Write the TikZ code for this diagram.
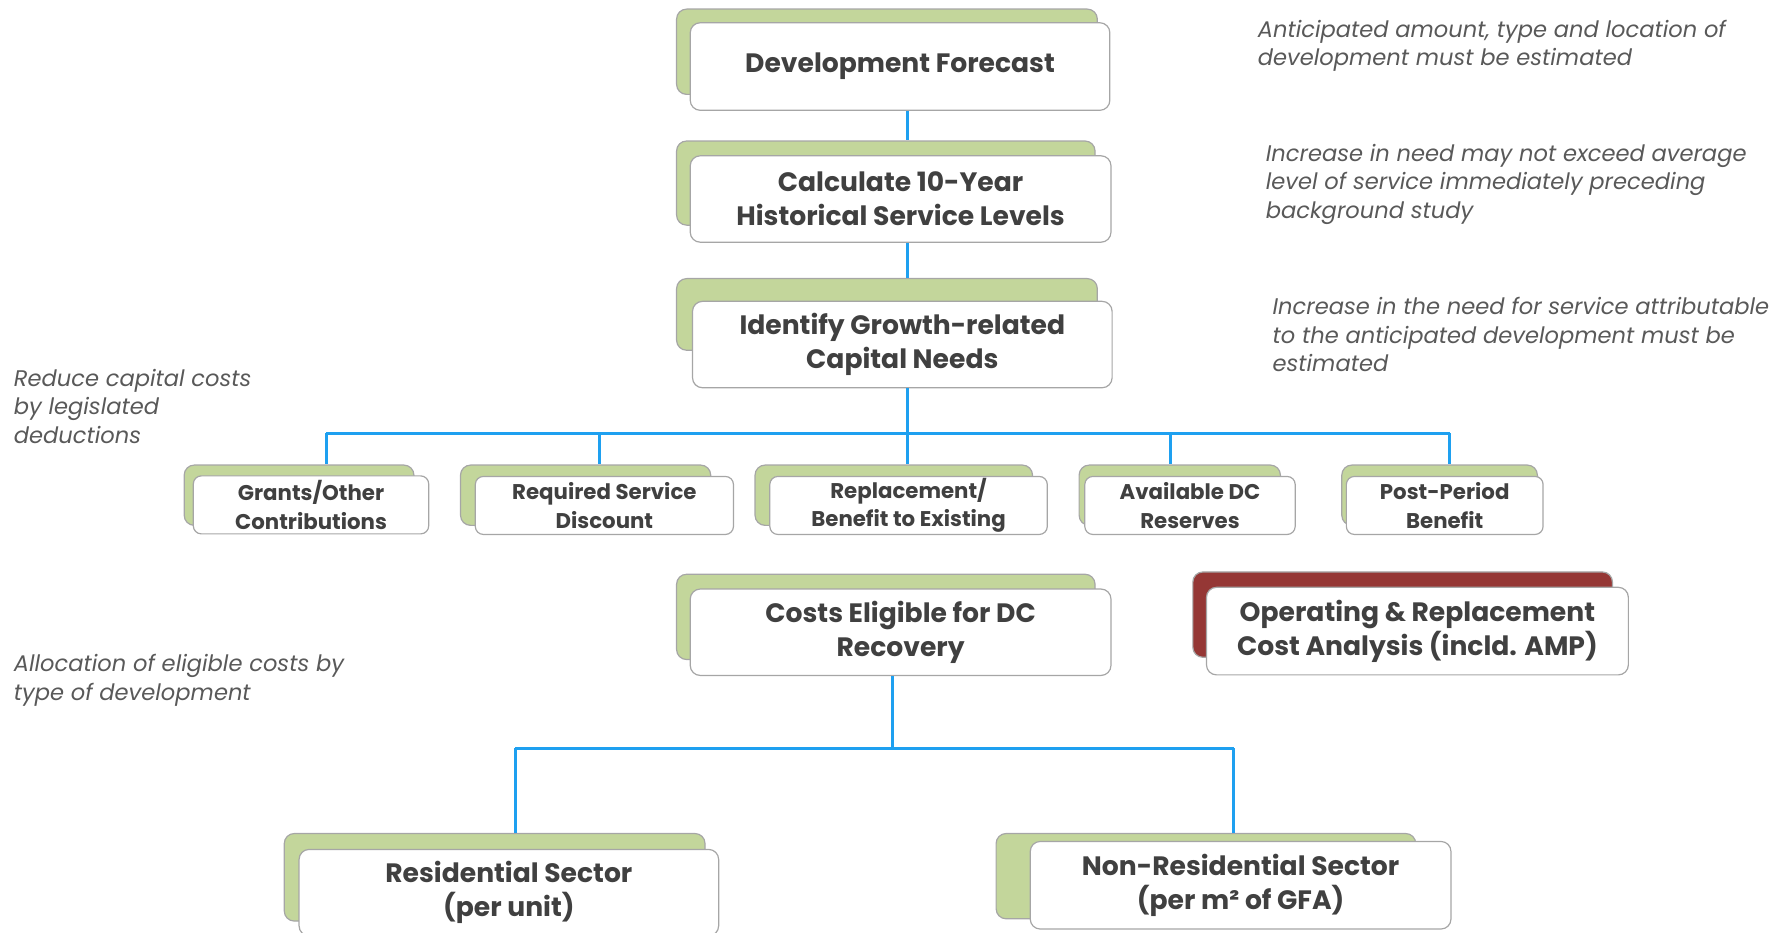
\documentclass[tikz,border=0pt]{standalone}
\usepackage{fontspec}
\setmainfont{Poppins}
\definecolor{leaf}{HTML}{C3D69B}
\definecolor{brick}{HTML}{953735}
\definecolor{wire}{HTML}{1EA0F0}
\definecolor{ink}{HTML}{404040}
\definecolor{notegray}{HTML}{595959}
\definecolor{rim}{HTML}{A6A6A6}
\def\px{1.1371pt}
\begin{document}
\begin{tikzpicture}[x=1.1371pt, y=-1.1371pt,
  backcard/.style 2 args={draw=rim, line width=1.2pt, fill=leaf, rounded corners=10pt,
    inner sep=0pt, minimum width=#1*\px, minimum height=#2*\px},
  redcard/.style 2 args={backcard={#1}{#2}, fill=brick},
  card/.style 2 args={draw=rim, line width=1.2pt, fill=white, rounded corners=10pt,
    inner sep=0pt, align=center, text=ink, minimum width=#1*\px, minimum height=#2*\px,
    font=\bfseries\fontsize{26.6}{34}\selectfont},
  minicard/.style 2 args={card={#1}{#2}, rounded corners=8pt,
    font=\bfseries\fontsize{21.3}{28.4}\selectfont},
  note/.style={anchor=north west, align=left, inner sep=0pt, text=notegray,
    font=\itshape\fontsize{22.6}{28.4}\selectfont},
  link/.style={draw=wire, line width=3pt}]
\useasboundingbox (0,0) rectangle (1568,820);

% main column
\node[backcard={370}{75}] (dev-back) at (780,45.5) {};
\node[card={369}{77}] (dev) at (791.5,58.5) {Development Forecast};
\node[backcard={368}{74}] (calc-back) at (779,161) {};
\node[card={370}{76}] (calc) at (792,175) {Calculate 10-Year\\Historical Service Levels};
\node[backcard={370}{63}] (ident-back) at (780,276.5) {};
\node[card={369}{76}] (ident) at (793.5,303) {Identify Growth-related\\Capital Needs};

% deductions
\node[backcard={202}{53}] (grants-back) at (263,435.5) {};
\node[minicard={207}{51}] (grants) at (273.5,444) {Grants/Other\\Contributions};
\node[backcard={220}{53}] (reqd-back) at (515,435.5) {};
\node[minicard={227}{51}] (reqd) at (531.5,444.5) {Required Service\\Discount};
\node[backcard={244}{53}] (repl-back) at (786,435.5) {};
\node[minicard={244}{51}] (repl) at (799,444.5) {Replacement/\\Benefit to Existing};
\node[backcard={177}{53}] (avail-back) at (1037.5,435.5) {};
\node[minicard={185}{51}] (avail) at (1046.5,444.5) {Available DC\\Reserves};
\node[backcard={172}{53}] (post-back) at (1266,435.5) {};
\node[minicard={173}{51}] (post) at (1270.5,444.5) {Post-Period\\Benefit};

% eligible costs and side analysis
\node[backcard={368}{75}] (costs-back) at (779,542.5) {};
\node[card={370}{76}] (costs) at (792,556) {Costs Eligible for DC\\Recovery};
\node[redcard={369}{75}] (oper-back) at (1233.5,540.5) {};
\node[card={371}{77}] (oper) at (1246.5,555) {Operating \& Replacement\\Cost Analysis (incld. AMP)};

% allocation by sector
\node[backcard={370}{77}] (resid-back) at (435,771.5) {};
\node[card={369}{76}] (resid) at (447.5,785) {Residential Sector\\(per unit)};
\node[backcard={369}{75}] (nonres-back) at (1060.5,770.5) {};
\node[card={370}{77}] (nonres) at (1091,778.5) {Non-Residential Sector\\(per m² of GFA)};

% connectors
\coordinate (spine) at (798,0);
\coordinate (bus) at (798,381);
\coordinate (bus-a) at (287,381);
\coordinate (bus-b) at (527,381);
\coordinate (bus-d) at (1029,381);
\coordinate (bus-e) at (1275,381);
\coordinate (split) at (785,658);
\coordinate (split-l) at (453,658);
\coordinate (split-r) at (1085,658);

\draw[link] (dev.south -| spine) -- (calc-back.north -| spine);
\draw[link] (calc.south -| spine) -- (ident-back.north -| spine);
\draw[link] (ident.south -| spine) -- (bus);
\draw[link] (bus-a) -- (bus-e);
\draw[link] (bus-a) -- (bus-a |- grants-back.north);
\draw[link] (bus-b) -- (bus-b |- reqd-back.north);
\draw[link] (bus) -- (bus |- repl-back.north);
\draw[link] (bus-d) -- (bus-d |- avail-back.north);
\draw[link] (bus-e) -- (bus-e |- post-back.north);
\draw[link] (costs.south -| split) -- (split);
\draw[link] (split-l) -- (split-r);
\draw[link] (split-l) -- (split-l |- resid-back.north);
\draw[link] (split-r) -- (split-r |- nonres-back.north);

% side notes
\node[note] (note-dev) at (1106,17.5) {Anticipated amount, type and location of\\development must be estimated};
\node[note] (note-calc) at (1113,126.5) {Increase in need may not exceed average\\level of service immediately preceding\\background study};
\node[note] (note-ident) at (1119,261.5) {Increase in the need for service attributable\\to the anticipated development must be\\estimated};
\node[note] (note-deduct) at (12,324.5) {Reduce capital costs\\by legislated\\deductions};
\node[note] (note-alloc) at (12,575.5) {Allocation of eligible costs by\\type of development};
\end{tikzpicture}
\end{document}
